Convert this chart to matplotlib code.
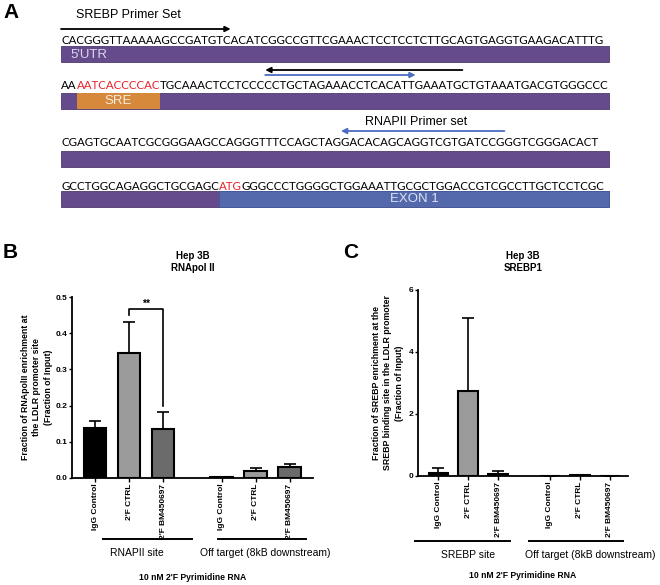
import numpy as np
import matplotlib.pyplot as plt
from matplotlib.patches import Rectangle
from matplotlib.ticker import FormatStrFormatter

plt.rcParams['font.family'] = ['Liberation Sans', 'DejaVu Sans']

# ---- panel A: LDLR promoter sequence ----
seq_lines = [
    'CACGGGTTAAAAAGCCGATGTCACATCGGCCGTTCGAAACTCCTCCTCTTGCAGTGAGGTGAAGACATTTG',
    'AAAATCACCCCACTGCAAACTCCTCCCCCTGCTAGAAACCTCACATTGAAATGCTGTAAATGACGTGGGCCC',
    'CGAGTGCAATCGCGGGAAGCCAGGGTTTCCAGCTAGGACACAGCAGGTCGTGATCCGGGTCGGGACACT',
    'GCCTGGCAGAGGCTGCGAGCATGGGGCCCTGGGGCTGGAAATTGCGCTGGACCGTCGCCTTGCTCCTCGC',
]
red_spans = [None, (2, 13), None, (20, 23)]   # SRE motif, ATG start codon
sre_span = (2, 13)
exon1_start = 20
# row, from char, to char, colour
primer_arrows = [
    (0, 0, 22, 'black'),
    (1, 53, 27, 'black'),
    (1, 27, 47, 'blue'),
    (2, 57, 36, 'blue'),
]

# ---- panels B and C: ChIP qPCR ----
sample_labels = ['IgG Control', "2'F CTRL", "2'F BM450697"]
groups_b = ['RNAPII site', 'Off target (8kB downstream)']
groups_c = ['SREBP site', 'Off target (8kB downstream)']
rnapol_mean = [0.138, 0.345, 0.135, 0.002, 0.020, 0.031]
rnapol_err = [0.020, 0.085, 0.048, 0.0, 0.007, 0.009]
srebp_mean = [0.11, 2.75, 0.08, 0.0, 0.02, 0.0]
srebp_err = [0.15, 2.35, 0.08, 0.0, 0.0, 0.0]
bar_colors = ['black', '#9b9b9b', '#6b6b6b']

W, H = 660, 585
purple, purple_edge = '#654b8c', '#4e3a70'
exon_blue, sre_orange = '#5468ac', '#d6893a'
red, arrow_blue = '#e8202a', '#4c6cc0'

fig = plt.figure(figsize=(W / 100, H / 100), dpi=100)
ov = fig.add_axes([0, 0, 1, 1])
ov.set_xlim(0, W)
ov.set_ylim(H, 0)
ov.axis('off')
rend = fig.canvas.get_renderer()


def width_px(s, **kw):
    t = ov.text(0, 0, s, **kw)
    w = t.get_window_extent(rend).width
    t.remove()
    return w


seq_font = dict(family='Lato')
x0, x1 = 61, 609
fs = 10 * 545 / width_px(seq_lines[0], fontsize=10, **seq_font)


def char_x(row, i):
    if i == 0:
        return x0
    return x0 + width_px(seq_lines[row][:i], fontsize=fs, **seq_font)


baselines = [44.5, 89, 145.5, 190]
box_top = [46, 93, 151, 191]
box_h = 16

for r, line in enumerate(seq_lines):
    ov.add_patch(Rectangle((x0, box_top[r]), x1 - x0, box_h, fc=purple,
                           ec=purple_edge, lw=0.6))
    cuts = [0, len(line)] if red_spans[r] is None else [0, *red_spans[r], len(line)]
    for a, b in zip(cuts[:-1], cuts[1:]):
        col = red if red_spans[r] == (a, b) else 'black'
        ov.text(char_x(r, a), baselines[r], line[a:b], fontsize=fs, color=col,
                va='baseline', ha='left', **seq_font)

# SRE box and exon 1
sa, sb = char_x(1, sre_span[0]), char_x(1, sre_span[1])
ov.add_patch(Rectangle((sa, box_top[1]), sb - sa, box_h, fc=sre_orange, ec='none'))
ov.text((sa + sb) / 2, box_top[1] + box_h / 2 + 0.5, 'SRE', color='#f7ece0',
        fontsize=9.5, ha='center', va='center')
ex = char_x(3, exon1_start)
ov.add_patch(Rectangle((ex, box_top[3]), x1 - ex, box_h, fc=exon_blue, ec='#465a98', lw=0.6))
ov.text((ex + x1) / 2, box_top[3] + box_h / 2 + 0.5, 'EXON 1', color='#dde3f3',
        fontsize=9.5, ha='center', va='center')
ov.text(70, box_top[0] + box_h / 2 + 0.5, "5'UTR", color='#ddd6ec',
        fontsize=9.5, ha='left', va='center')

arrow_y = [29, 70, 75, 131]
for (r, a, b, c), y in zip(primer_arrows, arrow_y):
    col = 'black' if c == 'black' else arrow_blue
    ov.annotate('', xy=(char_x(r, b), y), xytext=(char_x(r, a), y),
                arrowprops=dict(arrowstyle='-|>', color=col, lw=1.3,
                                mutation_scale=8, shrinkA=0, shrinkB=0))
ov.text(76, 15, 'SREBP Primer Set', fontsize=9, ha='left', va='center')
ov.text(365, 122, 'RNAPII Primer set', fontsize=9, ha='left', va='center')

# panel letters
for letter, (lx, ly) in zip('ABC', [(3, 12), (3, 252), (343, 253)]):
    ov.text(lx, ly, letter, fontsize=15, fontweight='bold', ha='left', va='center')


def bar_panel(px, means, errs, ymax, yticks, fmt, title, title_x, ylabel, ylabel_xy,
              groups, group_lines, group_label_x, group_y, bottom_y):
    left, right, top, bottom, xlo, xhi = px
    ax = fig.add_axes([left / W, 1 - bottom / H, (right - left) / W, (bottom - top) / H])
    ax.patch.set_alpha(0)
    x = np.r_[np.arange(3), np.arange(3) + 3.72]
    cols = bar_colors * 2
    ax.bar(x, means, width=0.66, color=cols, edgecolor='black', linewidth=1.5, zorder=2)
    ax.errorbar(x, means, yerr=[np.zeros(len(errs)), errs], fmt='none', ecolor='black',
                elinewidth=1.2, capsize=4.5, capthick=1.2, zorder=1)
    ax.set_xlim(xlo, xhi)
    ax.set_ylim(0, ymax)
    ax.set_yticks(yticks)
    ax.yaxis.set_major_formatter(FormatStrFormatter(fmt))
    ax.set_xticks(x)
    ax.set_xticklabels(sample_labels * 2, rotation=90, fontsize=6, fontweight='bold')
    for t in ax.get_yticklabels():
        t.set_fontweight('bold')
    ax.tick_params(axis='y', length=2.5, width=1.0, pad=1, labelsize=6)
    ax.tick_params(axis='x', length=3, width=1.0, pad=1)
    for s in ['top', 'right']:
        ax.spines[s].set_visible(False)
    for s in ['left', 'bottom']:
        ax.spines[s].set_linewidth(1.3)

    ov.text(title_x, 262, title, fontsize=7, fontweight='bold', ha='center',
            va='center', linespacing=1.2)
    ov.text(*ylabel_xy, ylabel, rotation=90, fontsize=6.3, fontweight='bold',
            ha='center', va='center', multialignment='center', linespacing=1.35)
    for name, (ga, gb), gx in zip(groups, group_lines, group_label_x):
        ov.plot([ga, gb], [group_y, group_y], color='black', lw=1.4)
        ov.text(gx, group_y + 14, name, fontsize=7.5, ha='center', va='center')
    ov.text(title_x, bottom_y, "10 nM 2'F Pyrimidine RNA", fontsize=6.2,
            fontweight='bold', ha='center', va='center')
    return ax, x


ax_b, xb = bar_panel((72, 313, 297, 478, -0.68, 6.41), rnapol_mean, rnapol_err,
                     0.5, np.arange(0, 0.51, 0.1), '%.1f', 'Hep 3B\nRNApol II', 193,
                     'Fraction of RNApolII enrichment at\nthe LDLR promoter site\n(Fraction of Input)',
                     (37, 387), groups_b, [(103, 192), (218, 306)], [137, 265], 539, 577)
# significance bracket
ax_b.plot([xb[1], xb[1], xb[2], xb[2]], [0.45, 0.466, 0.466, 0.2], color='black', lw=1.2)
ax_b.text((xb[1] + xb[2]) / 2, 0.466, '**', fontsize=7.5, fontweight='bold',
          ha='center', va='bottom')

bar_panel((418, 628, 290, 476, -0.68, 6.32), srebp_mean, srebp_err,
          6, [0, 2, 4, 6], '%d', 'Hep 3B\nSREBP1', 523,
          'Fraction of SREBP enrichment at the\nSREBP binding site in the LDLR promoter\n(Fraction of Input)',
          (388, 383), groups_c, [(415, 510), (529, 623)], [468, 590], 541, 575)

fig.savefig('out.png', dpi=100)
